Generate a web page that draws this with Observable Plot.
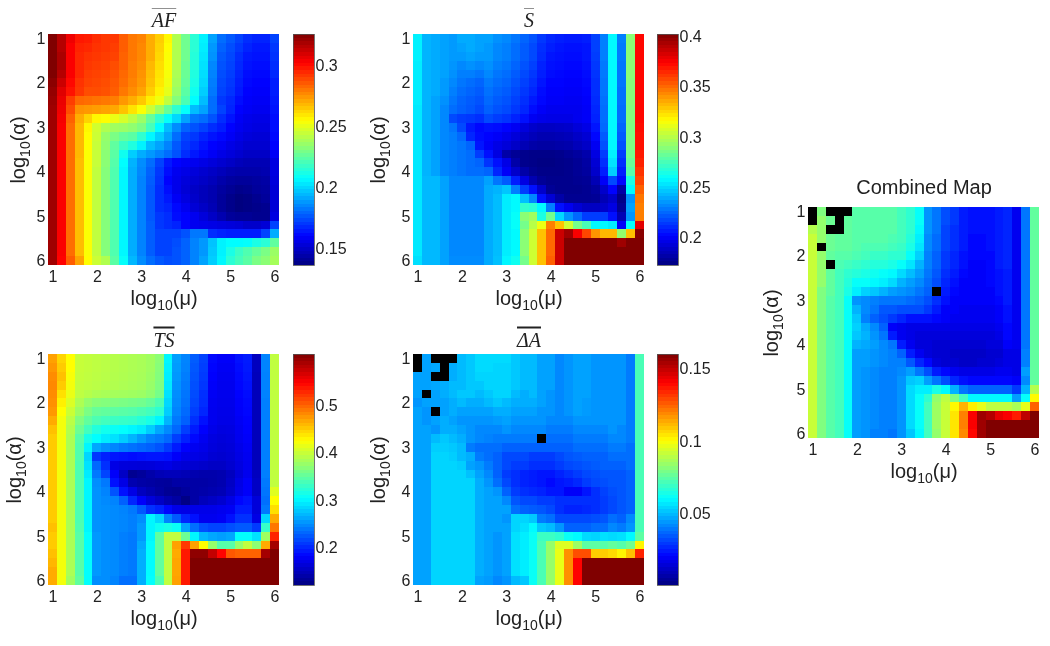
<!DOCTYPE html>
<html>
<head>
<meta charset="utf-8">
<script src="https://cdn.jsdelivr.net/npm/d3@7"></script>
<script src="https://cdn.jsdelivr.net/npm/@observablehq/plot@0.6"></script>
<style>
html,body{margin:0;padding:0;background:#fff;width:1050px;height:646px;overflow:hidden}
#chart{position:relative;width:1050px;height:646px;filter:blur(0.5px)}
#chart svg{position:absolute;overflow:visible;background:transparent}
</style>
</head>
<body>
<div id="chart"></div>
<script>
const N = null;
const gridValues = [1,1.2,1.4,1.6,1.8,2,2.2,2.4,2.6,2.8,3,3.2,3.4,3.6,3.8,4,4.2,4.4,4.6,4.8,5,5.2,5.4,5.6,5.8,6];
const axisTicks = [1,2,3,4,5,6];
const afTicks = [0.15,0.2,0.25,0.3];
const sTicks = [0.2,0.25,0.3,0.35,0.4];
const tsTicks = [0.2,0.3,0.4,0.5];
const daTicks = [0.05,0.1,0.15];

// values in thousandths
const afRows = [
[326,316,305,298,297,294,292,292,285,280,278,270,264,256,240,228,215,205,190,180,176,172,168,166,166,172],
[326,316,303,296,295,293,292,291,285,280,277,270,263,255,240,228,215,204,188,178,174,170,166,164,164,170],
[326,318,303,295,293,292,291,290,284,280,277,270,262,254,240,228,214,203,187,176,173,168,164,163,163,169],
[326,318,303,295,292,291,290,288,284,279,276,268,261,254,240,227,214,202,185,175,172,167,163,162,162,168],
[326,316,303,295,291,290,289,287,283,279,275,267,260,253,239,227,213,201,184,174,171,166,162,161,161,167],
[324,312,301,293,290,289,288,286,282,278,274,266,259,252,238,226,212,200,183,173,170,165,161,160,160,165],
[322,308,299,292,288,288,287,285,280,276,272,264,257,250,236,224,210,198,182,172,169,164,160,159,159,165],
[321,306,291,283,282,281,280,279,274,270,265,258,252,243,232,221,207,195,180,170,167,162,159,158,158,164],
[320,305,288,275,274,273,272,271,266,260,254,245,236,226,216,208,195,190,180,172,166,160,158,157,157,163],
[320,304,284,270,263,256,255,251,247,242,236,226,216,208,200,190,182,180,175,168,163,158,156,155,155,162],
[320,303,282,268,256,246,240,237,236,234,230,220,207,195,186,178,175,172,168,165,160,157,155,154,154,162],
[320,303,282,268,255,245,235,230,226,224,216,206,198,190,180,172,170,166,163,161,158,155,153,152,152,161],
[320,303,282,268,255,244,234,225,218,213,205,195,190,184,176,170,167,163,160,158,155,153,151,151,151,160],
[320,303,282,268,254,244,233,224,210,198,192,188,184,180,175,168,164,161,158,155,153,151,149,149,149,158],
[320,303,282,267,254,244,233,223,207,193,186,180,172,164,160,158,157,155,153,151,149,147,146,146,146,154],
[320,303,282,267,254,243,232,222,206,192,185,178,170,162,157,155,153,151,149,147,145,144,144,144,145,154],
[320,303,282,267,254,243,232,222,206,192,184,177,169,160,156,153,151,149,147,144,142,141,141,142,143,153],
[320,303,282,267,254,243,232,222,206,192,184,176,168,162,156,152,149,147,145,142,140,138,139,141,142,152],
[320,303,282,267,254,243,232,222,206,192,184,176,168,164,158,154,150,147,145,141,138,136,137,139,141,152],
[320,303,282,267,254,243,232,222,206,192,184,176,168,166,161,157,152,149,146,141,138,136,137,138,139,152],
[320,303,282,267,254,243,232,222,206,192,184,176,170,168,162,160,157,153,149,145,141,140,140,139,139,154],
[320,303,282,267,254,243,232,222,206,192,184,177,170,168,166,160,157,156,155,154,153,152,150,150,152,172],
[320,303,282,267,254,243,232,222,206,192,184,177,172,172,172,175,182,182,168,166,165,165,165,165,172,192],
[320,303,282,267,254,243,232,222,206,192,184,177,172,172,174,178,184,188,196,205,207,207,208,212,215,225],
[320,303,282,267,254,243,232,222,206,192,184,177,172,172,175,178,184,188,197,205,212,218,222,226,230,236],
[320,302,285,272,255,245,240,224,208,194,186,180,176,174,175,178,184,190,198,206,215,220,224,230,233,238]
];
const sRows = [
[256,242,240,238,236,240,240,238,238,234,232,228,224,220,214,210,208,207,207,208,216,230,258,230,290,372],
[256,242,240,238,236,238,240,238,236,232,230,226,222,218,212,208,206,205,205,206,216,230,258,229,290,372],
[256,242,240,238,236,236,238,236,236,232,230,226,222,218,211,206,205,204,204,206,215,230,258,229,290,372],
[255,242,240,238,235,232,234,232,234,230,228,224,220,216,209,205,204,203,203,205,214,229,258,228,290,372],
[255,242,240,238,234,230,230,228,232,228,226,222,218,214,208,204,203,202,202,204,213,229,258,228,290,372],
[255,242,240,236,232,228,226,224,229,226,224,220,216,212,206,202,202,201,201,203,212,228,258,228,289,372],
[255,242,240,236,230,226,224,222,227,224,222,218,214,210,204,201,201,200,200,202,212,228,258,227,289,372],
[255,242,238,234,228,224,222,220,225,222,220,216,212,207,203,200,200,199,199,201,211,227,258,227,289,372],
[254,242,238,232,226,223,221,218,223,220,218,214,210,204,200,198,198,198,198,200,210,226,258,226,288,372],
[254,242,238,232,218,215,214,212,218,215,213,209,205,199,197,196,196,196,198,200,209,226,258,226,288,372],
[254,242,238,232,228,218,207,203,205,204,202,199,194,190,188,188,189,190,193,196,206,225,258,224,287,371],
[254,242,238,232,230,225,210,204,202,200,197,193,189,186,184,184,185,186,189,192,203,222,258,222,287,370],
[254,242,238,232,230,228,224,206,200,196,193,189,185,182,181,181,182,183,186,189,199,220,258,220,287,370],
[254,242,238,232,230,228,226,215,205,195,182,178,176,175,175,175,176,178,180,183,195,215,256,215,285,368],
[254,242,238,232,230,228,226,224,213,205,196,182,176,175,174,174,175,176,178,181,192,212,253,212,282,366],
[254,242,238,232,230,228,226,226,224,210,200,190,182,177,175,175,175,176,178,180,190,208,248,208,278,362],
[254,243,243,238,232,232,232,232,238,228,222,208,195,184,178,176,176,176,177,178,185,200,218,203,265,358],
[254,243,243,238,232,232,232,232,240,242,246,230,215,205,190,178,176,176,176,177,180,190,202,182,258,352],
[254,243,243,238,232,232,232,232,240,244,255,258,245,232,205,192,182,177,177,177,178,185,190,175,235,347],
[254,243,243,238,232,232,232,232,240,244,255,258,270,268,258,230,205,198,192,188,188,190,195,178,238,345],
[254,243,243,238,232,232,232,232,240,244,255,260,290,295,265,285,250,235,225,215,215,215,205,185,235,345],
[254,243,243,238,232,232,232,232,240,244,255,260,285,300,312,345,330,305,285,275,258,258,255,200,260,380],
[254,243,243,238,232,232,232,232,240,244,255,258,290,305,330,350,385,395,375,358,340,332,332,292,330,400],
[254,243,243,238,232,232,232,232,240,244,255,258,290,305,330,350,385,402,402,402,402,402,402,395,402,402],
[254,243,243,238,232,232,232,232,240,244,255,258,290,305,330,350,385,402,402,402,402,402,402,402,402,402],
[252,243,243,238,233,233,233,233,240,245,257,262,285,305,330,352,385,402,402,402,402,402,402,402,402,402]
];
const tsRows = [
[470,445,425,398,396,394,392,390,388,386,384,380,370,300,258,245,226,214,186,180,180,190,195,152,245,395],
[475,450,425,398,396,394,392,390,388,386,384,380,368,298,256,244,224,212,184,178,178,188,194,152,245,395],
[480,455,422,397,395,393,391,389,387,385,383,378,366,296,254,242,222,210,182,176,176,186,192,150,244,395],
[482,450,420,396,394,392,390,388,386,384,382,376,364,294,252,240,220,208,180,175,175,185,190,150,244,395],
[480,440,415,394,390,386,384,382,381,380,378,372,360,290,250,238,218,205,178,174,174,183,188,150,244,395],
[478,432,408,386,374,368,366,364,362,360,358,352,340,285,248,236,216,204,176,173,173,181,186,150,243,395],
[475,425,400,378,362,352,350,348,346,344,340,335,325,280,245,233,212,200,175,172,172,180,185,150,243,395],
[465,420,392,365,350,340,335,332,330,328,322,315,300,268,240,228,205,190,175,171,171,178,183,150,243,395],
[455,420,388,355,335,320,312,308,305,300,295,280,262,248,232,212,195,182,172,168,169,176,182,150,243,395],
[450,420,385,345,315,304,295,290,280,268,256,245,240,232,212,198,186,176,168,165,167,175,180,150,243,395],
[450,420,385,342,300,262,252,246,240,236,232,228,222,210,195,182,176,172,166,163,165,172,178,150,243,395],
[450,420,385,342,285,208,198,192,190,188,190,192,192,190,180,172,170,168,162,160,163,170,176,150,243,395],
[450,420,385,340,290,232,205,170,166,165,164,165,168,170,165,162,160,158,155,155,160,168,175,150,243,395],
[450,420,385,340,295,240,215,180,155,130,135,142,148,150,150,148,145,143,143,145,152,165,175,152,243,395],
[450,420,385,340,300,250,240,190,170,145,140,138,136,135,140,140,140,140,142,145,155,170,180,155,240,395],
[450,420,385,340,300,252,245,222,190,170,152,145,138,132,130,136,140,142,145,148,158,172,180,155,238,410],
[450,420,385,340,300,252,248,245,228,200,180,165,155,145,138,125,140,150,155,160,170,185,190,165,235,425],
[450,420,385,340,300,252,250,248,245,240,225,205,198,185,172,170,172,172,172,175,178,195,195,165,240,440],
[450,420,385,340,300,252,250,248,246,243,250,300,285,245,225,200,190,175,175,178,190,205,205,170,285,465],
[455,420,385,342,300,252,250,248,246,243,255,300,310,315,308,260,235,220,215,215,220,225,225,210,330,490],
[450,420,385,345,305,255,250,248,243,240,255,300,350,395,395,355,300,270,262,258,262,305,305,290,380,530],
[450,420,385,345,305,255,250,248,243,240,262,303,350,395,470,520,470,425,375,345,345,375,395,370,465,590],
[455,420,385,345,305,255,250,248,243,240,265,303,350,395,465,535,600,600,575,545,505,500,500,500,590,607],
[460,420,385,345,305,255,250,248,243,240,265,303,350,395,468,535,607,607,607,607,607,607,607,607,607,607],
[465,420,385,345,305,255,250,248,243,240,265,303,350,395,468,535,607,607,607,607,607,607,607,607,607,607],
[465,420,380,350,305,250,250,245,235,235,265,305,340,395,470,535,607,607,607,607,607,607,607,607,607,607]
];
const daRows = [
[N,46,N,N,N,50,52,55,55,55,55,52,50,50,46,46,42,44,46,46,44,44,44,44,40,72],
[N,46,47,N,48,50,52,55,55,54,54,52,50,50,46,46,42,44,46,46,44,44,44,44,40,72],
[46,46,N,N,48,50,52,54,54,54,54,52,50,50,46,46,42,44,46,46,44,44,44,44,40,72],
[46,46,47,48,50,50,52,52,54,54,54,52,50,50,46,46,42,44,46,46,44,44,44,44,40,72],
[46,N,46,48,50,52,52,50,52,54,54,50,48,50,46,44,42,44,46,46,44,44,44,44,40,72],
[44,46,46,46,48,50,48,48,50,52,50,48,48,48,46,44,42,44,46,45,44,44,44,44,40,72],
[46,44,N,46,48,46,46,46,46,48,48,46,46,46,44,44,42,44,46,45,44,44,44,44,40,72],
[46,44,46,48,46,44,44,44,44,45,46,44,44,44,44,42,42,42,44,44,44,44,44,44,40,72],
[46,46,44,48,48,46,44,42,42,42,44,42,42,42,42,40,40,40,42,42,42,42,44,42,40,72],
[46,46,50,52,50,48,44,42,41,40,40,40,40,40,N,38,38,38,40,40,40,40,42,42,40,72],
[46,46,53,53,52,50,40,38,38,38,36,36,36,36,36,36,36,36,38,38,38,38,40,40,38,72],
[46,46,54,54,53,50,48,40,38,36,32,32,32,30,30,30,32,34,35,36,36,36,38,38,38,72],
[46,46,54,54,54,53,46,44,40,36,32,30,30,28,28,28,30,32,33,34,35,36,36,36,38,72],
[46,46,54,54,54,54,51,46,42,36,30,28,26,25,24,24,26,28,30,32,33,34,34,34,36,72],
[46,46,54,54,54,54,54,48,44,38,32,28,26,25,24,22,24,25,27,30,32,33,34,34,36,72],
[46,46,54,54,54,54,54,48,46,44,36,30,28,27,26,24,24,20,20,24,28,31,33,34,36,72],
[46,46,54,54,54,54,54,48,46,46,42,34,32,32,30,30,28,28,28,28,28,30,32,34,36,72],
[46,46,54,54,54,54,54,48,46,46,46,38,36,35,34,32,28,26,26,27,28,30,32,34,36,72],
[46,46,54,54,54,54,54,48,46,46,44,54,54,52,40,38,32,32,32,32,33,34,38,36,42,72],
[46,46,54,54,54,54,54,48,46,46,46,54,56,60,52,50,44,36,36,36,38,38,42,40,44,72],
[46,46,54,54,54,54,54,48,46,44,46,56,58,62,70,70,68,62,60,55,54,56,55,56,60,75],
[46,46,54,54,54,54,54,48,46,44,46,56,58,62,72,84,95,95,85,75,75,74,76,74,78,102],
[46,46,54,54,54,54,54,48,46,44,46,56,58,62,72,84,97,118,128,128,108,108,106,102,110,135],
[46,46,54,54,54,54,54,48,46,44,46,56,58,62,72,84,97,118,140,160,160,160,160,160,160,160],
[46,46,54,54,54,54,54,48,46,44,46,56,58,62,72,84,97,118,140,160,160,160,160,160,160,160],
[46,46,54,54,54,54,54,46,45,42,44,50,52,62,72,84,97,118,140,160,160,160,160,160,160,160]
];
const combinedRows = [
[N,50,N,N,N,46,46,46,46,46,44,42,38,27,24,20,18,15,14,14,14,15,16,11,24,47],
[N,52,48,N,47,46,46,46,46,46,44,42,38,27,24,20,18,15,14,14,14,15,16,11,24,47],
[55,52,N,N,47,46,46,46,46,46,44,42,37,27,24,19,17,15,14,14,14,15,16,11,24,47],
[57,52,48,47,47,46,46,46,46,45,44,41,36,26,23,19,17,15,13,13,14,15,16,11,24,47],
[57,N,48,47,47,46,45,45,45,44,43,40,35,26,23,19,17,15,13,13,14,15,16,11,24,47],
[57,52,47,46,46,45,44,43,43,42,42,38,33,25,22,18,16,14,13,13,13,15,16,11,24,47],
[57,52,N,45,44,43,42,41,41,40,38,35,30,25,22,18,16,14,12,12,13,15,16,11,24,47],
[57,52,47,44,42,41,40,39,38,37,34,31,28,24,21,17,15,13,12,12,13,14,15,11,24,47],
[57,52,47,44,41,38,38,37,36,34,30,28,26,23,20,16,14,12,12,12,13,14,15,11,24,47],
[57,50,47,44,40,36,33,32,30,28,27,26,24,22,N,15,13,12,12,12,12,14,15,11,24,47],
[57,50,46,44,38,27,26,25,24,24,24,23,22,20,17,14,12,12,12,12,12,13,15,11,24,47],
[57,50,46,44,38,30,26,24,21,21,20,20,20,18,15,12,12,11,11,11,11,12,14,11,24,47],
[57,50,46,44,38,32,25,22,20,18,16,14,14,14,13,12,11,11,11,11,11,12,14,11,24,47],
[57,50,46,44,38,33,29,26,22,12,11,10,10,10,10,10,10,10,10,10,10,11,13,11,24,47],
[57,50,46,44,38,32,30,27,24,15,11,10,9,9,9,9,9,9,9,9,9,10,13,11,24,47],
[57,50,46,44,38,30,29,28,26,24,15,11,9,9,8,8,8,8,8,8,9,9,12,11,24,47],
[57,50,46,44,38,28,28,27,26,25,22,15,11,9,8,8,7,7,7,7,8,8,10,10,25,47],
[57,50,46,44,38,28,28,27,26,25,25,21,16,13,9,8,8,7,7,8,8,9,10,10,25,47],
[57,50,46,44,38,28,27,26,25,25,26,28,24,20,15,13,11,10,10,10,10,11,11,10,28,47],
[57,50,46,44,38,28,27,26,25,25,27,32,33,28,24,20,16,14,13,13,13,13,13,12,26,47],
[57,50,46,44,38,28,27,26,25,25,27,34,36,36,40,37,30,24,22,22,22,22,22,18,30,55],
[57,50,46,44,38,28,27,26,25,25,27,34,38,42,52,56,50,44,37,37,37,37,37,28,38,63],
[57,50,46,44,38,28,27,26,25,25,27,34,38,44,53,57,63,70,64,60,56,56,56,54,60,78],
[57,50,46,44,38,28,27,26,25,25,27,34,38,44,53,57,65,75,88,97,95,90,88,85,94,100],
[57,50,46,44,38,28,27,26,25,25,27,34,38,44,53,57,65,75,88,97,100,100,100,100,100,100],
[57,50,46,44,38,28,27,25,25,24,27,32,37,44,52,57,65,74,87,97,100,100,100,100,100,100]
];

const jetStops = ["#000080","#0000ff","#0080ff","#00ffff","#80ff80","#ffff00","#ff8000","#ff0000","#800000"];
const jet = d3.piecewise(d3.interpolateRgb, jetStops);
const CELL = 0.1;
const SANS = "'Liberation Sans', Arial, sans-serif";
const chart = document.getElementById("chart");

function makeTable(rows, unit) {
  return rows.flatMap((row, i) => row.map((v, j) => ({
    mu: gridValues[j], alpha: gridValues[i], value: v === null ? null : v * unit
  })));
}

function subLabel(svg, selector, tail) {
  const t = d3.select(svg).select(selector).select("text");
  t.selectAll("*").remove();
  t.text(null).attr("font-size", 20).attr("fill", "#222");
  t.append("tspan").text("log");
  t.append("tspan").attr("font-size", 14).attr("dy", "0.36em").text("10");
  t.append("tspan").attr("dy", "-0.25em").text(tail);
}

function panel({rows, unit, domain, left, top, title, sans, labelOffset, overline}) {
  const ml = 52, mt = 34, mb = 52, mr = 6, side = 231;
  const data = makeTable(rows, unit);
  const cellOpts = {
    x1: d => d.mu - CELL, x2: d => d.mu + CELL,
    y1: d => d.alpha - CELL, y2: d => d.alpha + CELL,
    shapeRendering: "crispEdges"
  };
  const svg = Plot.plot({
    width: ml + side + mr, height: mt + side + mb,
    marginLeft: ml, marginRight: mr, marginTop: mt, marginBottom: mb,
    style: {fontFamily: SANS, fontSize: "16px", color: "#222", background: "transparent"},
    x: {domain: [0.9, 6.1]},
    y: {domain: [0.9, 6.1], reverse: true},
    color: {type: "linear", domain, interpolate: jet, clamp: true},
    marks: [
      Plot.rect(data.filter(d => d.value !== null), {...cellOpts, fill: "value"}),
      Plot.rect(data.filter(d => d.value === null), {...cellOpts, fill: "black"}),
      Plot.axisX({ticks: axisTicks, tickSize: 0, tickPadding: 5, tickFormat: "d", label: "log10(μ)", labelAnchor: "center", labelArrow: "none", labelOffset: 39}),
      Plot.axisY({ticks: axisTicks, tickSize: 0, tickPadding: 3, tickFormat: "d", label: "log10(α)", labelAnchor: "center", labelArrow: "none", labelOffset}),
      Plot.text([title], {
        frameAnchor: "top", lineAnchor: "bottom", dy: sans ? -14 : -8, text: d => d, fontSize: 20,
        fontFamily: sans ? SANS : "'Liberation Serif', serif", fontStyle: sans ? "normal" : "italic", fill: "#222"
      })
    ]
  });
  svg.style.left = (left - ml) + "px";
  svg.style.top = (top - mt) + "px";
  subLabel(svg, 'g[aria-label="x-axis label"]', "(μ)");
  subLabel(svg, 'g[aria-label="y-axis label"]', "(α)");
  if (overline) d3.select(svg).selectAll('g[aria-label="text"] text').style("text-decoration", "overline");
  chart.appendChild(svg);
}

function colorbar({domain, ticks, left, top}) {
  const mt = 34, mb = 20, mr = 50, side = 231, w = 21;
  const step = (domain[1] - domain[0]) / 64;
  const levels = d3.range(64).map(i => domain[0] + i * step);
  const svg = Plot.plot({
    width: w + mr, height: mt + side + mb,
    marginLeft: 0, marginRight: mr, marginTop: mt, marginBottom: mb,
    style: {fontFamily: SANS, fontSize: "16px", color: "#222", background: "transparent"},
    x: {domain: [0, 1], axis: null},
    y: {domain},
    color: {type: "linear", domain, interpolate: jet, clamp: true},
    marks: [
      Plot.rect(levels, {x1: 0, x2: 1, y1: d => d, y2: d => d + step, fill: d => d + step / 2, shapeRendering: "crispEdges"}),
      Plot.frame({stroke: "#555", strokeWidth: 0.8}),
      Plot.axisY({anchor: "right", ticks, tickSize: 0, tickPadding: 1, tickFormat: d => String(d), label: null})
    ]
  });
  svg.style.left = left + "px";
  svg.style.top = (top - mt) + "px";
  chart.appendChild(svg);
}

panel({rows: afRows, unit: 0.001, domain: [0.136, 0.326], left: 48, top: 34, title: "AF", labelOffset: 38, overline: true});
colorbar({domain: [0.136, 0.326], ticks: afTicks, left: 293, top: 34});
panel({rows: sRows, unit: 0.001, domain: [0.173, 0.402], left: 413, top: 34, title: "S", labelOffset: 43, overline: true});
colorbar({domain: [0.173, 0.402], ticks: sTicks, left: 657, top: 34});
panel({rows: tsRows, unit: 0.001, domain: [0.122, 0.607], left: 48, top: 354, title: "TS", labelOffset: 42, overline: true});
colorbar({domain: [0.122, 0.607], ticks: tsTicks, left: 293, top: 354});
panel({rows: daRows, unit: 0.001, domain: [0.001, 0.16], left: 413, top: 354, title: "ΔA", labelOffset: 43, overline: true});
colorbar({domain: [0.001, 0.16], ticks: daTicks, left: 657, top: 354});
panel({rows: combinedRows, unit: 1, domain: [0, 100], left: 808, top: 207, title: "Combined Map", sans: true, labelOffset: 45, overline: false});
</script>
</body>
</html>
